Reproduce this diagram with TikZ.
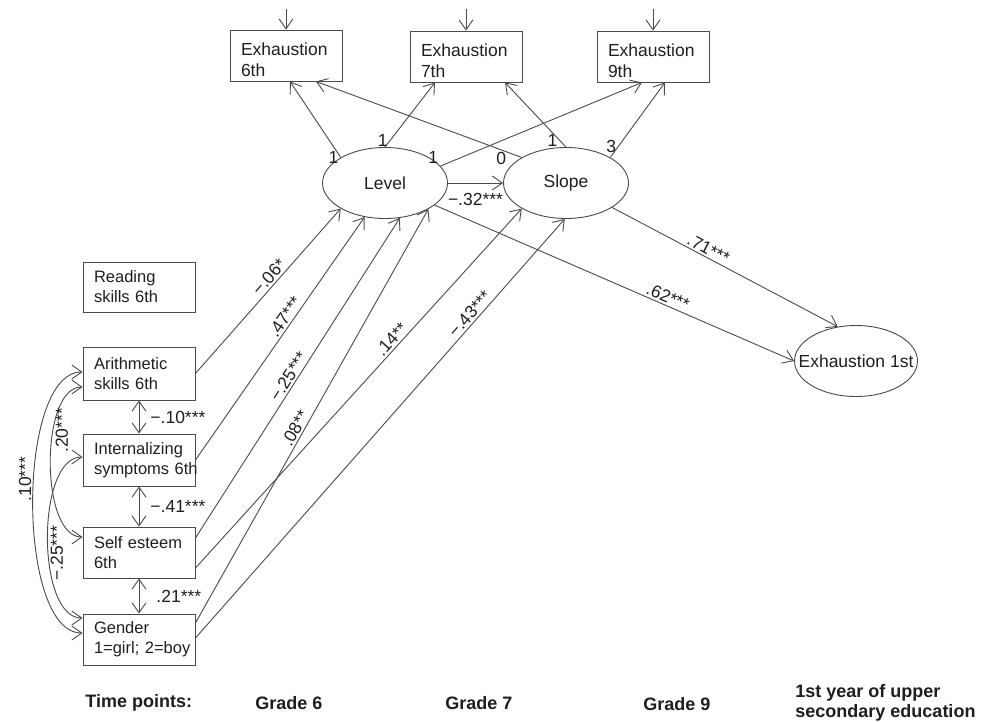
\documentclass[tikz,border=0pt]{standalone}
\usepackage{fontspec}
\setmainfont{Liberation Sans}
\usetikzlibrary{arrows.meta, shapes.geometric}
\definecolor{linegray}{HTML}{4A4A4A}
\definecolor{textgray}{HTML}{1E1E1E}
\newcommand\boxfont{\fontsize{16.5}{20}\selectfont}
\newcommand\mainfont{\fontsize{17.5}{21}\selectfont}

\begin{document}
\begin{tikzpicture}[x=1pt, y=-1pt, line width=0.9pt,
        >={Straight Barb[length=10pt,width=14pt]},
        every edge/.style={draw=linegray},
        obsbox/.style={draw=linegray, rectangle, minimum width=112pt, minimum height=52pt,
            text width=90pt, inner xsep=11pt, inner ysep=0pt, align=left,
            font=\boxfont, text=textgray},
        exhbox/.style={obsbox, minimum height=51pt, font=\mainfont,
            execute at begin node={\rule{0pt}{21pt}}},
        latent/.style={draw=linegray, ellipse, minimum width=125pt, minimum height=71pt,
            inner sep=0pt, font=\mainfont, text=textgray},
        coef/.style={font=\mainfont, text=textgray, inner sep=2pt},
        timept/.style={font=\fontsize{18}{20}\selectfont\bfseries, text=textgray,
            inner sep=0pt, align=left}]
    \useasboundingbox (0,0) rectangle (987,721);

    % indicators and latent growth factors
    \node[exhbox] (e6) at (286,55.5) {Exhaustion\\6th};
    \node[exhbox] (e7) at (466,56.5) {Exhaustion\\7th};
    \node[exhbox] (e9) at (653,56.5) {Exhaustion\\9th};
    \node[latent] (level) at (385,183) {\makebox[0pt]{Level}};
    \node[latent] (slope) at (566,183) {\makebox[0pt]{Slope}};
    \node[latent, minimum width=123pt] (exh1) at (856,361) {\makebox[0pt]{Exhaustion 1st}};
    \coordinate (e6in) at (286,9);
    \coordinate (e7in) at (466,9);
    \coordinate (e9in) at (653,9);

    % predictors
    \node[obsbox, minimum height=50pt] (read) at (139,287) {Reading\\skills 6th};
    \node[obsbox, minimum height=53pt] (arith) at (139,373.5) {Arithmetic\\skills 6th};
    \node[obsbox, inner xsep=8pt] (intern) at (139,460) {Internalizing\\\mbox{symptoms 6th}};
    \node[obsbox, minimum height=51pt] (self) at (139,552.5) {Self esteem\\6th};
    \node[obsbox, minimum height=51pt] (gender) at (139,639.5) {Gender\\\mbox{1=girl; 2=boy}};

    % time points
    \node[timept, anchor=base west] (tp) at (85,707) {Time points:};
    \node[timept, anchor=base west] (g6) at (255,709) {Grade 6};
    \node[timept, anchor=base west] (g7) at (445,709) {Grade 7};
    \node[timept, anchor=base west] (g9) at (643,710) {Grade 9};
    \node[timept, anchor=north west] (g10) at (795,684) {1st year of upper\\secondary education};

    \path[->]
    (e6in) edge (e6)
    (e7in) edge (e7)
    (e9in) edge (e9)
    (level.150) edge node[coef, pos=0, left] {1} ([xshift=4pt]e6.south)
    (level.90) edge node[coef, pos=0.1, left] {1} ([xshift=-31pt]e7.south)
    (level.17) edge node[coef, pos=0, above left=0pt] {1} ([xshift=-11pt]e9.south)
    (slope.150) edge node[coef, pos=0.1, below] {0} ([xshift=30pt]e6.south)
    (slope.90) edge node[coef, pos=0.1, left] {1} ([xshift=39pt]e7.south)
    (slope.30) edge node[coef, pos=0.15, left] {3} ([xshift=12pt]e9.south)
    (level.east) edge node[coef, below=8pt] {−.32***} (slope.west)
    (level.336) edge node[coef, sloped, above, pos=0.64] {.62***} (exh1.west)
    (slope.332) edge node[coef, sloped, above, pos=0.41] {.71***} (exh1.118)
    (arith.east) edge node[coef, sloped, above, pos=0.55] {−.06*} (level.210)
    (intern.east) edge node[coef, sloped, above, pos=0.57] {.47***} (level.239)
    ([yshift=14.5pt]self.east) edge node[coef, sloped, above, pos=0.49] {−.25***} (level.293)
    ([yshift=-15.5pt]self.east) edge node[coef, sloped, above, pos=0.62] {.14**} (slope.210)
    ([yshift=16.5pt]gender.east) edge node[coef, sloped, above, pos=0.46] {.08**} (level.329)
    ([yshift=1.5pt]gender.east) edge node[coef, sloped, above, pos=0.76] {−.43***} (slope.268)
    (arith.south) edge[<->] node[coef, right=9pt] {−.10***} (intern.north)
    (intern.south) edge[<->] node[coef, right=9pt] {−.41***} (self.north)
    (self.south) edge[<->] node[coef, right=15pt] {.21***} (gender.north)
    ([yshift=1.5pt]arith.west) edge[<->, out=180, in=180, looseness=0.65]
        node[coef, pos=0.44, rotate=90, anchor=south] {.10***} ([yshift=6.5pt]gender.west)
    ([yshift=-13.5pt]arith.west) edge[<->, out=180, in=180, looseness=0.73]
        node[coef, pos=0.355, rotate=90, anchor=north] {.20***} ([yshift=15.5pt]self.west)
    ([yshift=3pt]intern.west) edge[<->, out=180, in=180, looseness=0.74]
        node[coef, pos=0.565, rotate=90, anchor=north] {−.25***} ([yshift=21.5pt]gender.west)
    ;
\end{tikzpicture}
\end{document}
